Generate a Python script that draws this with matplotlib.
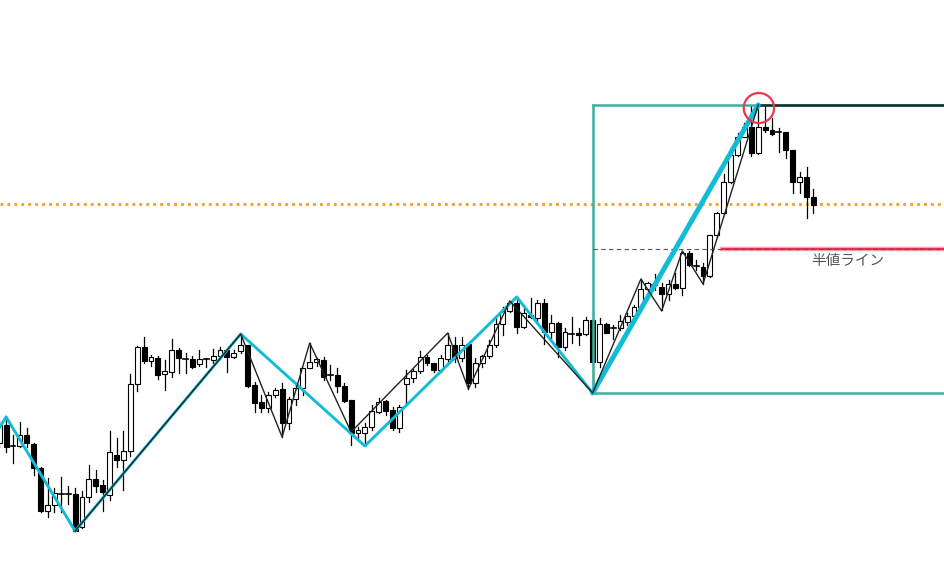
import matplotlib.pyplot as plt
from matplotlib.patches import Ellipse

plt.rcParams['font.family'] = ['Noto Sans CJK JP', 'DejaVu Sans']

# candle data (price units)
opens = [157, 175, 154, 154, 165, 156, 132, 89, 95, 106, 106, 106, 73, 103, 121, 115, 105, 145, 140, 149,
         216, 253, 239, 242, 226, 228, 250, 241, 241, 236, 241, 240, 244, 250, 243, 249, 255, 215, 198, 192,
         205, 211, 177, 201, 212, 232, 238, 240, 225, 225, 214, 200, 167, 167, 173, 188, 199, 190, 172, 216,
         222, 229, 243, 237, 230, 241, 255, 242, 256, 217, 237, 244, 255, 276, 289, 297, 273, 285, 282, 297,
         268, 277, 253, 266, 267, 266, 280, 238, 276, 272, 272, 278, 284, 293, 311, 315, 313, 306, 316, 312,
         347, 334, 333, 324, 365, 387, 418, 445, 463, 473, 447, 473, 470, 468, 468, 450, 418, 423, 403]
highs = [180, 184, 165, 178, 172, 157, 133, 122, 112, 123, 114, 112, 109, 135, 130, 120, 169, 162, 169, 226,
         254, 263, 245, 244, 240, 261, 252, 247, 244, 250, 242, 251, 253, 250, 250, 266, 255, 218, 205, 208,
         212, 217, 203, 217, 232, 257, 242, 243, 235, 232, 217, 200, 173, 177, 195, 202, 200, 193, 195, 230,
         231, 249, 245, 237, 245, 267, 263, 263, 256, 242, 245, 260, 283, 293, 299, 303, 292, 302, 300, 301,
         285, 278, 272, 283, 272, 283, 282, 282, 277, 275, 285, 287, 295, 321, 318, 326, 317, 320, 327, 349,
         349, 340, 337, 365, 388, 426, 453, 467, 477, 494, 495, 493, 482, 472, 468, 450, 428, 433, 411]
lows = [153, 148, 137, 153, 153, 125, 88, 83, 88, 88, 96, 69, 72, 98, 108, 89, 100, 133, 110, 144,
        209, 237, 234, 221, 210, 223, 227, 227, 232, 234, 233, 237, 241, 228, 242, 247, 213, 188, 188, 188,
        203, 163, 171, 195, 205, 232, 234, 220, 220, 208, 198, 155, 162, 155, 170, 187, 185, 170, 168, 197,
        218, 227, 235, 228, 228, 238, 238, 239, 211, 213, 233, 242, 253, 265, 288, 267, 272, 282, 278, 256,
        260, 243, 250, 257, 255, 265, 207, 233, 267, 261, 270, 275, 282, 292, 310, 310, 290, 300, 311, 305,
        334, 330, 316, 323, 363, 386, 417, 444, 463, 444, 446, 468, 465, 448, 442, 407, 407, 382, 387]
closes = [175, 153, 154, 165, 157, 132, 89, 95, 107, 106, 106, 69, 103, 121, 114, 108, 148, 140, 149, 216,
          253, 239, 243, 225, 229, 250, 242, 241, 233, 241, 241, 244, 250, 243, 247, 255, 214, 197, 192, 205,
          210, 177, 201, 212, 232, 238, 241, 223, 225, 214, 199, 167, 170, 173, 189, 198, 189, 172, 193, 222,
          229, 243, 237, 230, 242, 255, 242, 255, 217, 237, 244, 255, 276, 289, 297, 273, 287, 283, 297, 268,
          277, 253, 268, 266, 265, 280, 238, 276, 267, 272, 279, 284, 293, 311, 317, 315, 306, 316, 312, 347,
          335, 334, 324, 365, 387, 418, 445, 463, 473, 447, 473, 470, 466, 468, 450, 418, 423, 403, 395]

# short zigzag (thin black)
zz_idx = [11, 35, 41, 45, 51, 65, 68, 74, 86, 93, 96, 99, 102, 110]
zz_px = [69, 266, 163, 257, 168, 267, 211, 299, 207, 321, 289, 349, 316, 495]

# long zigzag (cyan)
cy_idx = [0, 1, 11, 35, 53, 75, 86]
cy_px = [172, 183, 69, 266, 154, 303, 207]
cy_last_idx = [86, 110]
cy_last_px = [207, 495]

swing_low = 207
swing_high = 495
half_line = (swing_high + swing_low) / 2
ref_line = 396

fig = plt.figure(figsize=(9.45, 5.69), dpi=100)
ax = fig.add_axes([0, 0, 1, 1])
ax.set_xlim(0.116, 137.07)
ax.set_ylim(31, 600)
ax.axis('off')

n = len(opens)
w = 0.72
for i in range(n):
    o, h, l, c = opens[i], highs[i], lows[i], closes[i]
    top = max(o, c)
    bot = min(o, c)
    ax.plot([i, i], [l, h], color='black', lw=0.9, zorder=2)
    if top - bot < 1.5:
        ax.plot([i - w / 2, i + w / 2], [o, o], color='black', lw=1.2, zorder=3)
    else:
        fc = 'white' if c > o else 'black'
        ax.add_patch(plt.Rectangle((i - w / 2, bot), w, top - bot, facecolor=fc,
                                   edgecolor='black', lw=0.8, zorder=3))

# orange reference line
ax.axhline(ref_line, color='#f59a23', ls=(0, (1, 1.5)), lw=2, zorder=1)

# box from swing low to swing high
teal = '#3fae9c'
ax.plot([86, 86], [swing_low, swing_high], color=teal, lw=1.8, zorder=4)
ax.plot([86, 140], [swing_high, swing_high], color=teal, lw=1.8, zorder=4)
ax.plot([86, 140], [swing_low, swing_low], color=teal, lw=1.8, zorder=4)
ax.plot([110, 140], [swing_high, swing_high], color='#123029', lw=1.8, zorder=5)

# half line
ax.plot([104.75, 140], [half_line, half_line], color='#f7a0a8', lw=3.2, zorder=4)
ax.plot([104.75, 140], [half_line, half_line], color='#e8304a', lw=1.4, zorder=5)
ax.plot([86, 140], [half_line, half_line], color='#555566', lw=0.8,
        ls=(0, (4, 3)), zorder=6)
ax.text(123, 339, '半値ライン', ha='center', va='center', fontsize=10.5, color='#555555')

# zigzags
ax.plot(cy_idx, cy_px, color='#12bcd6', lw=2.1, zorder=6, solid_joinstyle='round')
ax.plot(cy_last_idx, cy_last_px, color='#12bcd6', lw=3.6, zorder=6, solid_capstyle='round')
ax.plot(zz_idx, zz_px, color='#222222', lw=1.0, zorder=7)

ax.add_patch(Ellipse((110.1, 492), 4.4, 30, fill=False, edgecolor='#e8394a', lw=1.6, zorder=8))

fig.savefig('out.png', dpi=100)
